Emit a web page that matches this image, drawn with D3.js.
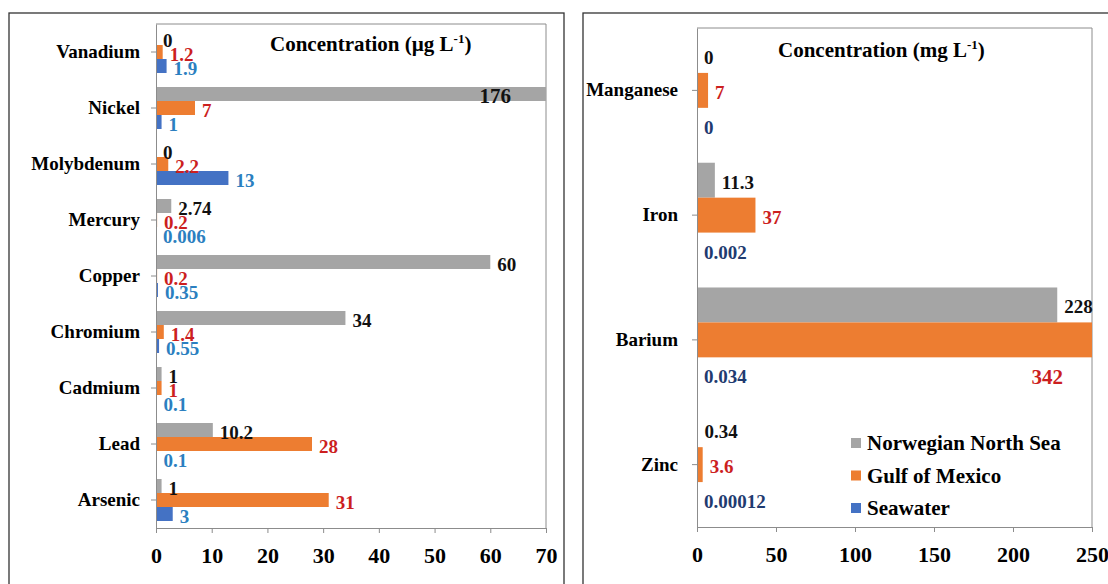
<!DOCTYPE html>
<html>
<title>Produced water concentrations</title>
<style>
  body {
    margin: 0px;
    background: white;
  }
  svg {
    display: block;
  }
  text {
    font-family: "Liberation Serif", "Times New Roman", Times, serif;
    font-weight: bold;
  }
  .axis path, .axis line {
    stroke: #8c8c8c;
  }
</style>
<script src="https://cdn.jsdelivr.net/npm/d3@7"></script>
<svg width="1108" height="584"></svg>
<script>

const seriesNames = ["Norwegian North Sea", "Gulf of Mexico", "Seawater"];
const barColors = ["#a5a5a5", "#ed7d31", "#4472c4"];

// trace metals, ug/L (top to bottom)
const metalsUg = ["Vanadium", "Nickel", "Molybdenum", "Mercury", "Copper",
                  "Chromium", "Cadmium", "Lead", "Arsenic"];
const northSeaUg = [0, 176, 0, 2.74, 60, 34, 1, 10.2, 1];
const gulfUg = [1.2, 7, 2.2, 0.2, 0.2, 1.4, 1, 28, 31];
const seawaterUg = [1.9, 1, 13, 0.006, 0.35, 0.55, 0.1, 0.1, 3];
const ticksUg = [0, 10, 20, 30, 40, 50, 60, 70];

// major metals, mg/L
const metalsMg = ["Manganese", "Iron", "Barium", "Zinc"];
const northSeaMg = [0, 11.3, 228, 0.34];
const gulfMg = [7, 37, 342, 3.6];
const seawaterMg = [0, 0.002, 0.034, 0.00012];
const ticksMg = [0, 50, 100, 150, 200, 250];

const svg = d3.select("svg");

panel({
  box: [9, 13, 555, 600],
  left: 156, right: 546, top: 24, bottom: 528,
  cats: metalsUg, series: [northSeaUg, gulfUg, seawaterUg], ticks: ticksUg,
  pad: 0.25, catPadding: 11,
  labelColors: ["#111", "#cc1f1f", "#2b7fc0"],
  clipDx: -35, clipDy: 0,
  title: "Concentration (\u00b5g L", titleX: 270, titleY: 51
});

panel({
  box: [583, 13, 540, 600],
  left: 697, right: 1092, top: 28, bottom: 527,
  cats: metalsMg, series: [northSeaMg, gulfMg, seawaterMg], ticks: ticksMg,
  pad: 0.16, catPadding: 14,
  labelColors: ["#111", "#cc1f1f", "#1f3b70"],
  clipDx: -29, clipDy: 1,
  title: "Concentration (mg L", titleX: 778, titleY: 57,
  legend: [851, 443, 32.5]
});

function panel(o) {
  const g = svg.append("g");

  g.append("rect")
      .attr("x", o.box[0]).attr("y", o.box[1])
      .attr("width", o.box[2]).attr("height", o.box[3])
      .attr("fill", "none")
      .attr("stroke", "#333")
      .attr("stroke-width", 1.3);

  const x = d3.scaleLinear()
      .domain([0, o.ticks[o.ticks.length - 1]])
      .range([o.left, o.right])
      .clamp(true);

  const y = d3.scaleBand()
      .domain(o.cats)
      .range([o.top, o.bottom])
      .paddingInner(o.pad)
      .paddingOuter(o.pad / 2);

  const ys = d3.scaleBand()
      .domain([0, 1, 2])
      .range([0, y.bandwidth()]);

  // frame on top and right of plot area
  g.append("path")
      .attr("d", `M${o.left},${o.top}H${o.right}V${o.bottom}`)
      .attr("fill", "none")
      .attr("stroke", "#8c8c8c");

  const cells = [];
  o.cats.forEach((c, i) => {
    o.series.forEach((s, j) => cells.push({cat: c, j: j, v: s[i]}));
  });

  g.append("g").selectAll("rect")
    .data(cells)
    .join("rect")
      .attr("x", o.left)
      .attr("y", d => y(d.cat) + ys(d.j))
      .attr("width", d => x(d.v) - o.left)
      .attr("height", ys.bandwidth())
      .attr("fill", d => barColors[d.j]);

  const over = d => d.v > x.domain()[1];

  g.append("g").selectAll("text")
    .data(cells)
    .join("text")
      .attr("x", d => over(d) ? o.right + o.clipDx : x(d.v) + 7)
      .attr("y", d => y(d.cat) + ys(d.j) + ys.bandwidth() / 2 + 2
                      + (over(d) ? o.clipDy * ys.bandwidth() : 0))
      .attr("text-anchor", d => over(d) ? "end" : "start")
      .attr("dominant-baseline", "central")
      .attr("font-size", d => over(d) ? 21 : 19)
      .attr("fill", d => o.labelColors[d.j])
      .text(d => String(d.v));

  // axes
  const xAxis = g.append("g")
      .attr("class", "axis")
      .attr("transform", `translate(0,${o.bottom})`)
      .call(d3.axisBottom(x).tickValues(o.ticks).tickSize(5).tickSizeOuter(0).tickPadding(14));
  xAxis.attr("font-family", null).attr("font-size", 22);

  const yAxis = g.append("g")
      .attr("class", "axis")
      .attr("transform", `translate(${o.left},0)`)
      .call(d3.axisLeft(y).tickSize(5).tickSizeOuter(0).tickPadding(o.catPadding));
  yAxis.attr("font-family", null).attr("font-size", 19);

  // title with superscript
  const t = g.append("text")
      .attr("x", o.titleX)
      .attr("y", o.titleY)
      .attr("font-size", 21)
      .text(o.title);
  t.append("tspan").attr("dy", -8).attr("font-size", 13).text("-1");
  t.append("tspan").attr("dy", 8).text(")");

  if (o.legend) {
    const [lx, ly, step] = o.legend;
    const items = g.append("g").selectAll("g")
      .data(seriesNames)
      .join("g")
        .attr("transform", (d, i) => `translate(${lx},${ly + i * step})`);
    items.append("rect")
        .attr("x", 0).attr("y", -5)
        .attr("width", 10).attr("height", 10)
        .attr("fill", (d, i) => barColors[i]);
    items.append("text")
        .attr("x", 16)
        .attr("dominant-baseline", "central")
        .attr("font-size", 21)
        .text(d => d);
  }
}
</script>
</html>
